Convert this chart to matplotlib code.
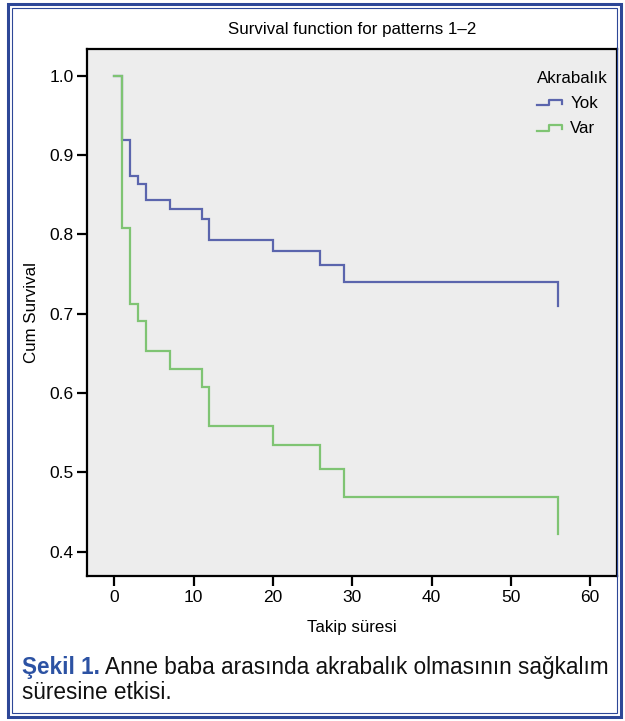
import matplotlib
matplotlib.use("Agg")
from matplotlib import pyplot as plt
from matplotlib.lines import Line2D
from matplotlib.patches import Rectangle
from matplotlib.legend_handler import HandlerBase

plt.rcParams['font.family'] = ['Liberation Sans', 'DejaVu Sans']

# Kaplan-Meier steps
times = [0, 1, 2, 3, 4, 7, 11, 12, 20, 26, 29, 56]
surv_yok = [1.0, 0.919, 0.873, 0.863, 0.843, 0.832, 0.819, 0.793, 0.779, 0.762, 0.740, 0.710]
surv_var = [1.0, 0.808, 0.712, 0.691, 0.653, 0.630, 0.607, 0.559, 0.534, 0.504, 0.469, 0.422]
group_labels = ['Yok', 'Var']
x_ticks = [0, 10, 20, 30, 40, 50, 60]
y_ticks = [0.4, 0.5, 0.6, 0.7, 0.8, 0.9, 1.0]

BLUE = '#5b65ad'
GREEN = '#7fc473'
FRAME = '#2d4797'
CAPTION_BLUE = '#2c52a3'


class StepHandler(HandlerBase):
    """little step glyph like the SPSS legend"""
    def create_artists(self, legend, orig_handle, xdescent, ydescent,
                       width, height, fontsize, trans):
        xs = [0, 0.45, 0.45, 0.95, 0.95]
        ys = [0.2, 0.2, 0.65, 0.65, 0.35]
        line = Line2D([x * width - xdescent for x in xs],
                      [y * height - ydescent for y in ys])
        line.update_from(orig_handle)
        line.set_transform(trans)
        return [line]


fig = plt.figure(figsize=(6.25, 7.21), dpi=100)
ax = fig.add_axes([0.1397, 0.2011, 0.847, 0.731])
ax.set_facecolor('#ededed')

ax.step(times, surv_yok, where='post', color=BLUE, lw=1.6, solid_joinstyle='miter')
ax.step(times, surv_var, where='post', color=GREEN, lw=1.6, solid_joinstyle='miter')

ax.set_xlim(-3.4, 63.35)
ax.set_ylim(0.3694, 1.0337)
ax.set_xticks(x_ticks)
ax.set_yticks(y_ticks)
ax.set_yticklabels([f'{v:.1f}' for v in y_ticks])
ax.tick_params(direction='out', length=7, width=1.6, labelsize=12.5, pad=3)
for s in ax.spines.values():
    s.set_linewidth(1.6)
    s.set_color('black')

ax.set_title('Survival function for patterns 1\u20132', fontsize=12.2, pad=11)
ax.set_xlabel('Takip süresi', fontsize=12.2, labelpad=11)
ax.set_ylabel('Cum Survival', fontsize=12.2, labelpad=7)

handles = [Line2D([], [], color=BLUE, lw=1.6), Line2D([], [], color=GREEN, lw=1.6)]
leg = ax.legend(handles, group_labels, title='Akrabalık', loc='upper right',
                bbox_to_anchor=(0.995, 0.97), frameon=False, fontsize=12.2,
                title_fontsize=12.2, handlelength=1.5, handletextpad=0.45,
                labelspacing=0.6, borderpad=0.1, borderaxespad=0.25,
                alignment='left', handler_map={Line2D: StepHandler()})

# caption under the chart
t1 = fig.text(0.0352, 0.058, 'Şekil 1.', fontsize=16.3, fontweight='bold',
              color=CAPTION_BLUE, va='bottom')
ax.annotate(' Anne baba arasında akrabalık olmasının sağkalım', xy=(1, 0),
            xycoords=t1, va='bottom', ha='left', fontsize=16.3, color='#111111',
            annotation_clip=False)
fig.text(0.0352, 0.0235, 'süresine etkisi.', fontsize=16.3, color='#111111', va='bottom')

# double blue frame around the whole figure
W, H = 625.0, 721.0
fig.patches.append(Rectangle((8 / W, 4 / H), 613 / W, 713 / H, transform=fig.transFigure,
                             fill=False, edgecolor=FRAME, lw=2.2))
fig.patches.append(Rectangle((12 / W, 8 / H), 605 / W, 705 / H, transform=fig.transFigure,
                             fill=False, edgecolor=FRAME, lw=0.8))

fig.savefig('out.png', dpi=100)
